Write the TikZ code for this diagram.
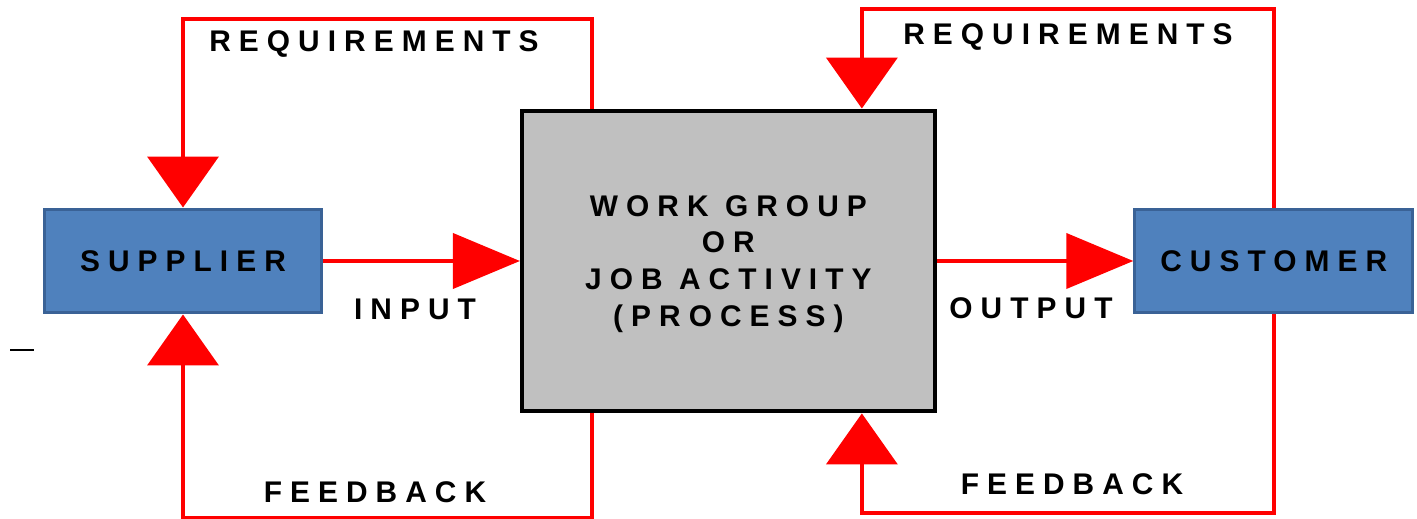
\documentclass[tikz,border=0pt]{standalone}
\usepackage{fontspec}
\setmainfont{Liberation Sans}
\newfontfamily\spaced{Liberation Sans}[LetterSpace=27]
\usetikzlibrary{arrows.meta}
\usetikzlibrary{positioning}

\definecolor{boxblue}{HTML}{4F81BD}
\definecolor{boxedge}{HTML}{3A6296}
\definecolor{boxgray}{HTML}{C0C0C0}

\tikzset{
  flow/.style={draw=red, line width=0.08cm},
  downtip/.style={-{Triangle[width=1.42cm,length=1.02cm]}},
  sidetip/.style={-{Triangle[width=1.1cm,length=1.34cm]}},
  lbl/.style={font=\spaced\bfseries\fontsize{17}{21}\selectfont},
  endbox/.style={draw=boxedge, fill=boxblue, line width=0.06cm, minimum width=5.56cm, minimum height=2.08cm, lbl}
}

\begin{document}
\begin{tikzpicture}[x=0.02cm,y=-0.02cm]
  \useasboundingbox (0,0) rectangle (1417,519);

  \node[endbox, name=supplier] at (183,261) {SUPPLIER};
  \node[draw, fill=boxgray, line width=0.08cm, minimum width=8.26cm, minimum height=6.02cm, lbl, align=center, text depth=0pt, name=process, right=3.93cm of supplier] {WORK GROUP\\OR\\JOB ACTIVITY\\(PROCESS)};
  \node[endbox, name=customer, right=3.93cm of process] {CUSTOMER};

  % labels on the loops
  \node[lbl, anchor=base, name=reqleft]  at (374,52)  {REQUIREMENTS};
  \node[lbl, anchor=base, name=reqright] at (1068,45) {REQUIREMENTS};
  \node[lbl, anchor=base, name=input]    at (415,320) {INPUT};
  \node[lbl, anchor=base, name=output]   at (1031,319) {OUTPUT};
  \node[lbl, anchor=base, name=fbleft]   at (375,503) {FEEDBACK};
  \node[lbl, anchor=base, name=fbright]  at (1072,495) {FEEDBACK};

  \draw[flow, sidetip] (supplier) -- (process);
  \draw[flow, sidetip] (process) -- (customer);

  \draw[flow, downtip] ([xshift=1.44cm]process.north west) -- ++(0,-90) -| (supplier);
  \draw[flow, downtip] ([xshift=1.44cm]process.south west) -- ++(0,105) -| (supplier);
  \draw[flow, downtip] (customer.north) -- ++(0,-199) -| ([xshift=6.84cm]process.north west);
  \draw[flow, downtip] (customer.south) -- ++(0,199) -| ([xshift=6.84cm]process.south west);

  \draw[line width=0.04cm] (10,350) -- (34,350);
\end{tikzpicture}
\end{document}
